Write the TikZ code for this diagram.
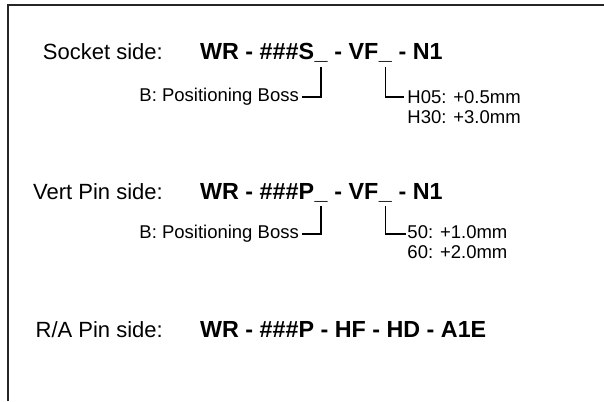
\documentclass[tikz,border=0pt]{standalone}
\usepackage{fontspec}
\setmainfont{Liberation Sans}
\usetikzlibrary{positioning, calc}
\tikzstyle{side} = [anchor=base east, inner sep=0pt, font=\fontsize{22}{24}\selectfont]
\tikzstyle{code} = [anchor=base west, inner sep=0pt, font=\fontsize{23.3}{26}\selectfont\bfseries]
\tikzstyle{option} = [inner ysep=0pt, inner xsep=3pt, font=\fontsize{18.5}{20}\selectfont]
\tikzstyle{lead} = [line width=1.2pt]

\begin{document}
\begin{tikzpicture}[x=1pt, y=-1pt, node distance=19pt]
      \useasboundingbox (0,0) rectangle (604,401);

      % Frame (only top and left edges show)
      \draw[line width=2pt, black!85] (8,401) -- (8,5) -- (604,5);

      % Socket side
      \node[side] (sockSide) at (163,60) {Socket side:};
      \node[code] (sockCodeA) at (200,60) {WR - \#\#\#S};
      \node[code] (sockUsA) at (sockCodeA.base east) {\_};
      \node[code] (sockCodeB) at (sockUsA.base east) {\ - VF};
      \node[code] (sockUsB) at (sockCodeB.base east) {\_};
      \node[code] (sockCodeC) at (sockUsB.base east) {\ - N1};
      \coordinate (sockTipA) at ([yshift=-4pt]sockUsA.south);
      \coordinate (sockTipB) at ([yshift=-4pt]sockUsB.south);
      \coordinate (sockCornerA) at (sockTipA |- 0,97);
      \coordinate (sockCornerB) at (sockTipB |- 0,97);
      \node[option, left=of sockCornerA] (sockBoss) {B: Positioning Boss};
      \node[option, right=of sockCornerB] (sockH05) {H05: +0.5mm};
      \node[option, anchor=base west] (sockH30) at ([yshift=-20pt]sockH05.base west) {H30: +3.0mm};
      \draw[lead] (sockBoss.east) -| (sockTipA);
      \draw[lead] (sockTipB) |- (sockH05.west);

      % Vert Pin side
      \node[side] (vertSide) at (163,199) {Vert Pin side:};
      \node[code] (vertCodeA) at (200,199) {WR - \#\#\#P};
      \node[code] (vertUsA) at (vertCodeA.base east) {\_};
      \node[code] (vertCodeB) at (vertUsA.base east) {\ - VF};
      \node[code] (vertUsB) at (vertCodeB.base east) {\_};
      \node[code] (vertCodeC) at (vertUsB.base east) {\ - N1};
      \coordinate (vertTipA) at ([yshift=-4pt]vertUsA.south);
      \coordinate (vertTipB) at ([yshift=-4pt]vertUsB.south);
      \coordinate (vertCornerA) at (vertTipA |- 0,234);
      \coordinate (vertCornerB) at (vertTipB |- 0,234);
      \node[option, left=of vertCornerA] (vertBoss) {B: Positioning Boss};
      \node[option, anchor=base west, inner xsep=1pt] (vert50) at ([xshift=21pt, yshift=-4pt]vertCornerB) {50: +1.0mm};
      \node[option, anchor=base west, inner xsep=1pt] (vert60) at ([yshift=-20pt]vert50.base west) {60: +2.0mm};
      \draw[lead] (vertBoss.east) -| (vertTipA);
      \draw[lead] (vertTipB) |- ([yshift=4pt]vert50.base west);

      % R/A Pin side
      \node[side] (raSide) at (163,337) {R/A Pin side:};
      \node[code] (raCode) at (200,337) {WR - \#\#\#P - HF - HD - A1E};
\end{tikzpicture}
\end{document}
